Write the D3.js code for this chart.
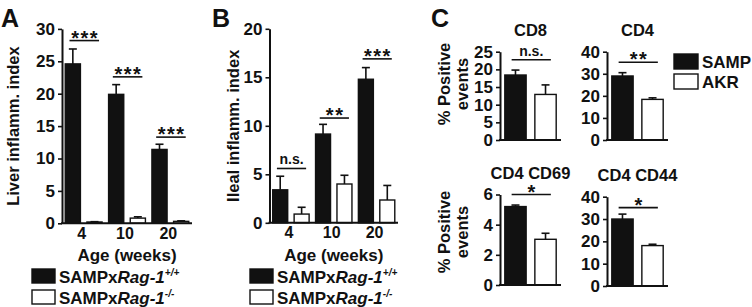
<!DOCTYPE html>
<html><head><meta charset="utf-8">
<script src="https://cdn.jsdelivr.net/npm/d3@7"></script>
<style>
body{margin:0;background:#fff;}
text{font-family:"Liberation Sans",Arial,Helvetica,sans-serif;font-weight:bold;fill:#111;}
</style></head><body>
<svg id="c" width="752" height="307"></svg>
<script>
// ---------- data ----------
const ages = ["4", "10", "20"];
const genotypes = ["wt", "ko"];
const liverWT = [24.6, 19.9, 11.4];
const liverWTerr = [2.3, 1.5, 0.8];
const liverKO = [0.2, 0.8, 0.3];
const liverKOerr = [0.05, 0.2, 0.08];
const liverSig = ["***", "***", "***"];
const liverSigLevel = [28.2, 22.6, 13.3];
const liverTicks = [0, 5, 10, 15, 20, 25, 30];

const ilealWT = [3.4, 9.15, 14.8];
const ilealWTerr = [1.4, 1.0, 1.2];
const ilealKO = [0.9, 4.0, 2.35];
const ilealKOerr = [0.7, 0.9, 1.5];
const ilealSig = ["n.s.", "**", "***"];
const ilealSigLevel = [5.6, 10.8, 16.9];
const ilealTicks = [0, 5, 10, 15, 20];

const strains = ["SAMP", "AKR"];
const cellTitles = ["CD8", "CD4", "CD4 CD69", "CD4 CD44"];
const cellSAMP = [18.4, 29.0, 5.2, 30.0];
const cellSAMPerr = [1.4, 1.5, 0.1, 2.2];
const cellAKR = [12.9, 18.4, 3.03, 18.1];
const cellAKRerr = [2.7, 0.7, 0.4, 0.6];
const cellSig = ["n.s.", "**", "*", "*"];
const cellSigLevel = [22.7, 35.2, 6.0, 35.1];
const cellMax = [25, 40, 6, 40];
const cellTicks = [[0, 5, 10, 15, 20, 25], [0, 10, 20, 30, 40], [0, 2, 4, 6], [0, 10, 20, 30, 40]];

// ---------- drawing ----------
const svg = d3.select("#c");
const FS = 17;

function yAxis(g, y, ticks) {
  const ax = g.append("g").call(d3.axisLeft(y).tickValues(ticks).tickFormat(d3.format("d"))
    .tickSize(4).tickSizeOuter(0).tickPadding(3));
  ax.select(".domain").attr("stroke", "#111").attr("stroke-width", 2);
  ax.selectAll(".tick line").attr("stroke", "#111").attr("stroke-width", 1.6);
  ax.selectAll(".tick text").attr("font-size", FS).attr("font-weight", "bold").attr("fill", "#111")
    .attr("font-family", "Liberation Sans, Arial, sans-serif");
  return ax;
}

function bar(g, x, w, y, v, e, fill) {
  const cx = x + w / 2;
  g.append("line").attr("x1", cx).attr("x2", cx).attr("y1", y(v)).attr("y2", y(v + e))
    .attr("stroke", "#111").attr("stroke-width", 1.6);
  g.append("line").attr("x1", cx - 4).attr("x2", cx + 4).attr("y1", y(v + e)).attr("y2", y(v + e))
    .attr("stroke", "#111").attr("stroke-width", 1.6);
  g.append("rect").attr("x", x).attr("width", w).attr("y", y(v)).attr("height", y(0) - y(v))
    .attr("fill", fill).attr("stroke", "#111").attr("stroke-width", 1.4);
}

function sig(g, xa, xb, yy, label) {
  g.append("line").attr("x1", xa).attr("x2", xb).attr("y1", yy).attr("y2", yy)
    .attr("stroke", "#111").attr("stroke-width", 1.6);
  if (label.indexOf("*") >= 0) {
    g.append("text").attr("x", (xa + xb) / 2 + 0.8).attr("y", yy + 4).attr("text-anchor", "middle")
      .attr("font-size", 20).attr("letter-spacing", 1.5).text(label);
  } else {
    g.append("text").attr("x", (xa + xb) / 2).attr("y", yy - 4).attr("text-anchor", "middle")
      .attr("font-size", 14).text(label);
  }
}

function legendEntry(x, y, fill, parts) {
  svg.append("rect").attr("x", x).attr("y", y).attr("width", 23).attr("height", 14)
    .attr("fill", fill).attr("stroke", "#111").attr("stroke-width", 1.4);
  const t = svg.append("text").attr("x", x + 27).attr("y", y + 14).attr("font-size", 17);
  parts.forEach(p => {
    const ts = t.append("tspan").text(p.t);
    if (p.i) ts.attr("font-style", "italic");
    if (p.sup) ts.attr("font-size", 10).attr("dy", -7);
  });
}

function groupPanel(cfg) {
  const y = d3.scaleLinear().domain([0, cfg.max]).range([cfg.y0, cfg.y1]);
  const gx = d3.scaleBand().domain(ages).range([cfg.x0, cfg.x1]);
  const ix = d3.scaleBand().domain(genotypes).range([0, gx.bandwidth()]).paddingInner(0.3).paddingOuter(0.15);
  const g = svg.append("g");
  const bw = ix.bandwidth();
  ages.forEach((a, i) => {
    bar(g, gx(a) + ix("wt"), bw, y, cfg.wt[i], cfg.wtErr[i], "#111");
    bar(g, gx(a) + ix("ko"), bw, y, cfg.ko[i], cfg.koErr[i], "#fff");
    sig(g, gx(a) + ix("wt") + bw * 0.28, gx(a) + ix("ko") + bw * 0.8, y(cfg.sigLevel[i]), cfg.sig[i]);
  });
  yAxis(svg.append("g").attr("transform", `translate(${cfg.x0},0)`), y, cfg.ticks);
  svg.append("line").attr("x1", cfg.x0 - 1).attr("x2", cfg.x1).attr("y1", y(0)).attr("y2", y(0))
    .attr("stroke", "#111").attr("stroke-width", 2);
  const xa = svg.append("g").attr("transform", `translate(-2,${y(0)})`)
    .call(d3.axisBottom(gx).tickSize(0).tickPadding(4));
  xa.select(".domain").remove();
  xa.selectAll(".tick text").attr("font-size", 16).attr("font-weight", "bold").attr("fill", "#111")
    .attr("font-family", "Liberation Sans, Arial, sans-serif");
  svg.append("text").attr("x", (cfg.x0 + cfg.x1) / 2).attr("y", y(0) + 38).attr("text-anchor", "middle")
    .attr("font-size", 17).text("Age (weeks)");
  svg.append("text").attr("transform", `translate(${cfg.titleX},${(cfg.y0 + cfg.y1) / 2}) rotate(-90)`)
    .attr("text-anchor", "middle").attr("font-size", 16.5).text(cfg.title);
  svg.append("text").attr("x", cfg.letterX).attr("y", 27).attr("font-size", 25).text(cfg.letter);
  legendEntry(cfg.legX, 269, "#111", [{t: "SAMPx"}, {t: "Rag-1", i: true}, {t: "+/+", sup: true, i: true}]);
  legendEntry(cfg.legX, 290, "#fff", [{t: "SAMPx"}, {t: "Rag-1", i: true}, {t: "-/-", sup: true, i: true}]);
}

groupPanel({x0: 62, x1: 192, y0: 223.3, y1: 28.9, max: 30, ticks: liverTicks,
  wt: liverWT, wtErr: liverWTerr, ko: liverKO, koErr: liverKOerr, sig: liverSig, sigLevel: liverSigLevel,
  title: "Liver inflamm. index", titleX: 19, letter: "A", letterX: 1, legX: 32});
groupPanel({x0: 269.5, x1: 398, y0: 222.8, y1: 28.8, max: 20, ticks: ilealTicks,
  wt: ilealWT, wtErr: ilealWTerr, ko: ilealKO, koErr: ilealKOerr, sig: ilealSig, sigLevel: ilealSigLevel,
  title: "Ileal inflamm. index", titleX: 239, letter: "B", letterX: 212, legX: 250});

// panel C
const cellLayout = [
  {x0: 500, y0: 140, y1: 51.7},
  {x0: 607, y0: 140, y1: 51.7},
  {x0: 500, y0: 285, y1: 194.5},
  {x0: 607, y0: 286, y1: 196.7}
];
cellTitles.forEach((title, i) => {
  const L = cellLayout[i];
  const x1 = L.x0 + 61;
  const y = d3.scaleLinear().domain([0, cellMax[i]]).range([L.y0, L.y1]);
  const x = d3.scaleBand().domain(strains).range([L.x0, x1]).paddingInner(0.29).paddingOuter(0.16);
  const g = svg.append("g");
  const bw = x.bandwidth();
  bar(g, x("SAMP"), bw, y, cellSAMP[i], cellSAMPerr[i], "#111");
  bar(g, x("AKR"), bw, y, cellAKR[i], cellAKRerr[i], "#fff");
  sig(g, x("SAMP") + bw * 0.32, x("AKR") + bw * 0.75, y(cellSigLevel[i]), cellSig[i]);
  yAxis(svg.append("g").attr("transform", `translate(${L.x0},0)`), y, cellTicks[i]);
  svg.append("line").attr("x1", L.x0 - 1).attr("x2", x1).attr("y1", y(0)).attr("y2", y(0))
    .attr("stroke", "#111").attr("stroke-width", 2);
  svg.append("text").attr("x", (L.x0 + x1) / 2).attr("y", L.y1 - 16).attr("text-anchor", "middle")
    .attr("font-size", 16.5).text(title);
});
[84, 232].forEach(cy => {
  const t = svg.append("text").attr("transform", `translate(450,${cy}) rotate(-90)`)
    .attr("text-anchor", "middle").attr("font-size", 16.5);
  t.append("tspan").attr("x", 0).attr("dy", 0).text("% Positive");
  t.append("tspan").attr("x", 0).attr("dy", 18).text("events");
});
svg.append("text").attr("x", 431).attr("y", 27).attr("font-size", 25).text("C");
strains.forEach((s, i) => {
  svg.append("rect").attr("x", 674).attr("y", 54 + i * 20).attr("width", 24).attr("height", 15)
    .attr("fill", i === 0 ? "#111" : "#fff").attr("stroke", "#111").attr("stroke-width", 1.4);
  svg.append("text").attr("x", 702).attr("y", 67.5 + i * 20).attr("font-size", 17).text(s);
});
</script></body></html>
